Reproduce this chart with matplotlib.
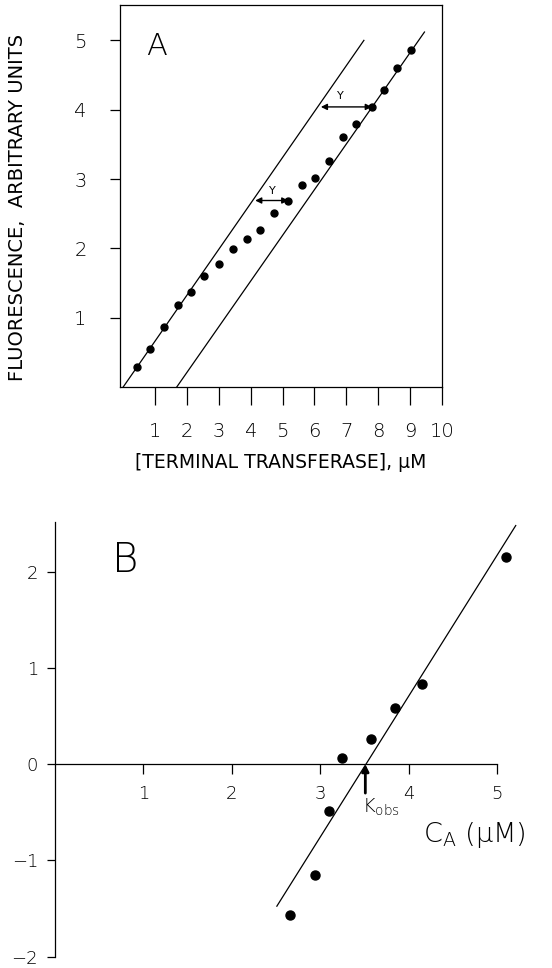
import numpy as np
import matplotlib.pyplot as plt

# Panel A: titration data
tdt_conc = [0.43, 0.85, 1.29, 1.71, 2.13, 2.55, 3.00, 3.43, 3.88, 4.29, 4.73,
            5.18, 5.60, 6.02, 6.46, 6.89, 7.30, 7.80, 8.18, 8.60, 9.03]
fluor = [0.29, 0.55, 0.86, 1.18, 1.37, 1.60, 1.77, 1.99, 2.14, 2.27, 2.51,
         2.69, 2.92, 3.01, 3.26, 3.60, 3.79, 4.04, 4.29, 4.60, 4.86]
line1_x = [0.0, 7.55]
line1_y = [0.0, 5.0]
line2_x = [1.68, 9.45]
line2_y = [0.0, 5.12]

# Panel B
ca = [2.66, 2.94, 3.10, 3.25, 3.57, 3.84, 4.15, 5.10]
fb = [-1.57, -1.15, -0.49, 0.06, 0.26, 0.58, 0.83, 2.15]
fit_x = [2.51, 5.21]
fit_y = [-1.475, 2.48]
k_obs = 3.51

plt.rcParams['font.family'] = 'DejaVu Sans'
plt.rcParams['font.weight'] = 'light'

fig = plt.figure(figsize=(5.52, 9.68), dpi=100)

# ---- panel A ----
axA = fig.add_axes([120 / 552, 1 - 387 / 968, 322 / 552, 382 / 968])
axA.plot(line1_x, line1_y, color='black', lw=0.9)
axA.plot(line2_x, line2_y, color='black', lw=0.9)
axA.plot(tdt_conc, fluor, 'o', color='black', ms=5)
axA.set_xlim(-0.1, 10.0)
axA.set_ylim(0, 5.51)
axA.set_xticks(range(1, 11))
axA.set_yticks(range(1, 6))
axA.tick_params(axis='x', direction='out', length=13, width=0.9, pad=12, labelsize=14)
axA.tick_params(axis='y', direction='out', length=7, width=0.9, pad=17, labelsize=14)
for s in axA.spines.values():
    s.set_linewidth(0.9)
axA.set_xlabel('[TERMINAL TRANSFERASE], μM', fontsize=13.5, labelpad=9)
axA.set_ylabel('FLUORESCENCE,  ARBITRARY UNITS', fontsize=14)
axA.yaxis.set_label_coords(-0.29, 0.469)
axA.text(1.05, 4.91, 'A', fontsize=22, ha='center', va='center')

# double arrows
axA.annotate('', xy=(4.14, 2.69), xytext=(5.18, 2.69),
             arrowprops=dict(arrowstyle='<|-|>', color='black', lw=1.0,
                             mutation_scale=9, shrinkA=0, shrinkB=0))
axA.text(4.68, 2.83, 'Y', fontsize=8, fontweight='normal', ha='center', va='center')
axA.annotate('', xy=(6.20, 4.04), xytext=(7.80, 4.04),
             arrowprops=dict(arrowstyle='<|-|>', color='black', lw=1.0,
                             mutation_scale=9, shrinkA=0, shrinkB=0))
axA.text(6.80, 4.2, 'Y', fontsize=8, fontweight='normal', ha='center', va='center')

# ---- panel B ----
axB = fig.add_axes([54.8 / 552, 1 - 956.7 / 968, 497.2 / 552, 435 / 968])
axB.plot(fit_x, fit_y, color='black', lw=0.9, clip_on=False)
axB.plot(ca, fb, 'o', color='black', ms=6.5, clip_on=False)
axB.set_xlim(0, 5.62)
axB.set_ylim(-2, 2.52)
axB.spines['top'].set_visible(False)
axB.spines['right'].set_visible(False)
axB.spines['bottom'].set_position(('data', 0))
axB.spines['bottom'].set_bounds(0, 5)
for s in axB.spines.values():
    s.set_linewidth(0.9)
axB.set_xticks(range(1, 6))
axB.set_yticks([-2, -1, 0, 1, 2])
axB.set_yticklabels(['\u22122', '\u22121', '0', '1', '2'])
axB.tick_params(axis='x', direction='out', length=7, width=0.9, pad=8, labelsize=13)
axB.tick_params(axis='y', direction='out', length=6, width=0.9, pad=6, labelsize=13)
axB.text(0.79, 2.12, 'B', fontsize=29, ha='center', va='center')

axB.annotate('', xy=(k_obs, 0.0), xytext=(k_obs, -0.30),
             arrowprops=dict(arrowstyle='-|>', color='black', lw=2.0,
                             mutation_scale=10, shrinkA=0, shrinkB=0))
axB.text(3.47, -0.45, r'K$_{\mathregular{obs}}$', fontsize=14, ha='left', va='center')
axB.text(4.16, -0.74, r'C$_{\mathregular{A}}$ (μM)', fontsize=19.5, ha='left', va='center')

fig.savefig('out.png', dpi=100)
